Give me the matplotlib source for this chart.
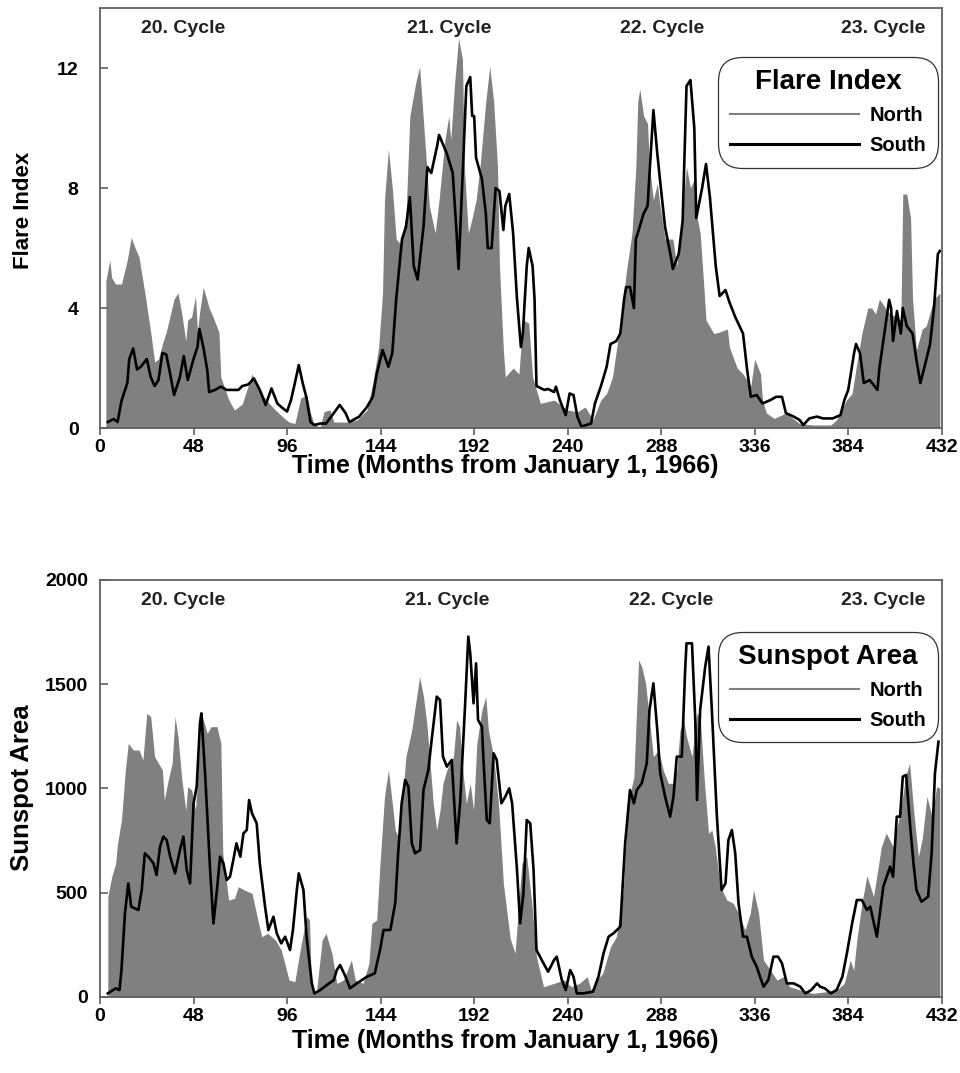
import matplotlib
matplotlib.use("Agg")
import matplotlib.pyplot as plt
from matplotlib.lines import Line2D

plt.rcParams['font.family'] = ['Liberation Sans', 'DejaVu Sans']
plt.rcParams['font.weight'] = 'bold'

# ---------------- Flare index, North (gray area) ----------------
fi_north_m = [3, 5, 6, 8, 11, 14, 16, 18, 20, 23, 26, 28, 30, 32, 34, 38, 40, 42, 44, 45, 47, 49, 50, 51, 53,
              56, 58, 61, 62, 66, 69, 73, 78, 80, 85, 90, 95, 97, 100, 103, 106, 108, 110, 113, 115, 118, 120,
              127, 132, 137, 140, 143, 145, 146, 148, 150, 152, 154, 157, 159, 162, 164, 167, 169, 172, 174,
              177, 179, 180, 182, 184, 186, 187, 189, 191, 193, 195, 198, 200, 202, 204, 205, 207, 208, 212,
              215, 217, 220, 222, 226, 233, 240, 245, 249, 253, 257, 260, 263, 265, 268, 270, 273, 275, 276,
              277, 279, 281, 282, 284, 286, 287, 290, 293, 294, 296, 298, 299, 301, 303, 305, 306, 308, 310,
              311, 315, 318, 322, 323, 327, 330, 334, 336, 339, 340, 342, 346, 352, 359, 366, 375, 378, 383,
              386, 388, 391, 394, 396, 398, 400, 404, 406, 411, 412, 414, 416, 417, 419, 422, 424, 428, 431]
fi_north_v = [4.9, 5.6, 5.0, 4.8, 4.8, 5.6, 6.35, 6.0, 5.7, 4.5, 3.2, 2.2, 2.3, 2.8, 3.2, 4.3, 4.5, 3.8, 2.9,
              3.6, 3.7, 4.4, 3.2, 3.8, 4.7, 4.0, 3.7, 3.2, 1.7, 0.95, 0.6, 0.8, 1.8, 1.5, 0.95, 0.6, 0.3, 0.2,
              0.15, 1.0, 1.1, 0.5, 0.1, 0.05, 0.55, 0.6, 0.2, 0.2, 0.27, 0.6, 1.5, 2.7, 4.5, 7.6, 9.3, 8.0,
              6.3, 6.15, 7.0, 10.4, 11.5, 12.05, 9.3, 7.4, 6.5, 7.6, 9.6, 10.4, 9.6, 11.5, 13.0, 12.3, 8.7,
              6.5, 7.0, 7.6, 8.7, 10.9, 12.05, 10.9, 8.7, 5.4, 2.6, 1.7, 2.0, 1.8, 3.6, 3.5, 1.7, 0.82, 0.93,
              0.6, 0.54, 0.7, 0.27, 0.93, 1.15, 1.7, 2.6, 3.9, 5.15, 6.5, 8.7, 10.9, 11.3, 10.4, 10.15, 8.7,
              7.6, 8.15, 7.6, 6.3, 6.3, 6.3, 5.4, 6.5, 7.4, 8.7, 8.0, 8.3, 7.15, 6.5, 4.6, 3.6, 3.15, 3.2,
              3.3, 2.7, 2.0, 1.8, 1.4, 2.3, 1.8, 0.93, 0.5, 0.32, 0.5, 0.15, 0.1, 0.1, 0.27, 0.93, 1.15, 2.0,
              3.15, 4.0, 4.0, 3.8, 4.3, 3.9, 3.8, 3.6, 7.8, 7.8, 7.0, 4.3, 2.6, 3.3, 3.4, 4.3, 4.5]

# ---------------- Flare index, South (black line) ----------------
fi_south_m = [4, 7, 9, 11, 14, 15, 17, 19, 21, 24, 26, 28, 30, 32, 34, 36, 38, 41, 43, 45, 48, 50, 51, 53, 55,
              56, 59, 62, 65, 71, 73, 76, 79, 82, 85, 88, 91, 93, 96, 98, 100, 102, 104, 106, 108, 110, 113,
              116, 120, 123, 126, 128, 133, 137, 140, 142, 145, 148, 150, 152, 155, 157, 159, 161, 163, 166,
              168, 170, 173, 174, 178, 181, 183, 184, 186, 188, 190, 191, 192, 193, 196, 198, 199, 201, 203,
              205, 207, 208, 210, 212, 213, 214, 216, 217, 219, 220, 222, 223, 224, 228, 230, 233, 234, 236,
              239, 241, 243, 245, 247, 252, 254, 257, 260, 262, 265, 267, 269, 270, 272, 274, 275, 276, 279,
              281, 284, 286, 288, 290, 293, 294, 297, 299, 301, 303, 305, 306, 309, 311, 313, 316, 318, 321,
              323, 326, 330, 332, 334, 337, 340, 344, 347, 350, 352, 356, 359, 361, 364, 368, 371, 376, 380,
              382, 384, 387, 388, 390, 392, 395, 399, 400, 402, 405, 406, 407, 409, 411, 412, 414, 417, 419,
              421, 423, 426, 428, 430, 431]
fi_south_v = [0.2, 0.3, 0.2, 0.9, 1.5, 2.3, 2.65, 1.95, 2.05, 2.3, 1.7, 1.4, 1.6, 2.5, 2.45, 1.8, 1.1, 1.7,
              2.4, 1.6, 2.3, 2.7, 3.3, 2.7, 1.95, 1.2, 1.27, 1.38, 1.27, 1.27, 1.4, 1.45, 1.65, 1.27, 0.77,
              1.32, 0.82, 0.7, 0.55, 0.93, 1.5, 2.1, 1.5, 1.0, 0.2, 0.1, 0.15, 0.15, 0.5, 0.77, 0.5, 0.2,
              0.38, 0.7, 1.04, 1.8, 2.6, 2.04, 2.5, 4.3, 6.3, 6.7, 7.7, 5.4, 4.95, 6.7, 8.7, 8.5, 9.4, 9.77,
              9.15, 8.5, 6.5, 5.3, 8.3, 11.4, 11.7, 10.4, 10.4, 9.0, 8.3, 7.15, 6.0, 6.0, 8.0, 7.9, 6.6, 7.4,
              7.8, 6.5, 5.4, 4.3, 2.7, 3.15, 5.4, 6.0, 5.4, 4.3, 1.4, 1.27, 1.3, 1.2, 1.38, 0.93, 0.43, 1.15,
              1.1, 0.38, 0.05, 0.15, 0.82, 1.38, 2.04, 2.8, 2.9, 3.15, 4.3, 4.7, 4.7, 4.0, 6.3, 6.5, 7.15,
              7.4, 10.6, 9.15, 7.9, 6.7, 5.7, 5.3, 5.8, 6.9, 11.4, 11.6, 10.0, 7.0, 8.0, 8.8, 7.7, 5.4, 4.4,
              4.6, 4.2, 3.7, 3.15, 2.0, 1.04, 1.1, 0.82, 0.93, 1.04, 1.04, 0.5, 0.38, 0.27, 0.1, 0.32, 0.38,
              0.32, 0.32, 0.43, 0.93, 1.27, 2.5, 2.8, 2.5, 1.5, 1.6, 1.27, 2.0, 2.9, 4.27, 4.0, 2.9, 3.9,
              3.15, 4.0, 3.4, 3.15, 2.27, 1.5, 2.0, 2.8, 4.0, 5.8, 5.9]

# ---------------- Sunspot area, North (gray area) ----------------
sa_north_m = [4, 6, 8, 9, 11, 13, 14.5, 17, 20, 22, 24, 26, 28, 32, 33, 35, 37, 38.5, 40, 42, 44, 45, 47, 49,
              50.5, 52, 55, 57, 60, 62, 63, 66, 69, 71, 74, 78, 81, 83, 86, 90, 93, 97, 100, 103, 106, 107.5,
              108.5, 111, 114, 116, 119, 121.5, 125, 129, 131, 135, 138, 139.5, 142, 143.7, 146, 148, 150,
              151.5, 153, 155, 157, 160, 162.5, 164, 166, 167.7, 169.4, 171, 172.8, 174.5, 176, 178, 179.7,
              181.4, 183, 184.5, 186.5, 188, 190, 191.7, 193.4, 196, 198, 199.3, 202, 204.5, 207, 210.5, 213,
              214, 216.5, 219, 221.6, 224, 227.6, 233, 238, 242, 246, 250, 252, 255, 258, 262, 265, 268.6, 271,
              274, 276.4, 278, 280, 282, 284, 286.6, 289, 291.7, 294, 296, 297.7, 299.5, 301, 303.8, 306.4,
              308, 310, 312.3, 314, 315.7, 318.4, 321.7, 325, 327.7, 331, 333.7, 335.4, 338, 340.5, 344,
              347.4, 350.8, 354, 359.4, 366, 373, 378, 382, 385, 386.8, 388.4, 391, 393.6, 397, 401, 403.5,
              407, 411, 413.5, 415.5, 417.5, 420, 422, 424.4, 427, 429.4, 431]
sa_north_v = [480, 576, 640, 736, 848, 1088, 1216, 1184, 1184, 1136, 1360, 1344, 1152, 1088, 944, 1040, 1120,
              1344, 1248, 1040, 896, 1008, 992, 896, 1120, 1360, 1264, 1296, 1296, 1216, 688, 464, 472, 528,
              512, 496, 368, 288, 304, 272, 224, 80, 72, 240, 384, 370, 40, 16, 272, 304, 208, 64, 80, 176, 80,
              64, 160, 352, 368, 640, 960, 1088, 928, 800, 768, 928, 1152, 1280, 1440, 1536, 1440, 1312, 1120,
              928, 800, 896, 1024, 1088, 1120, 1152, 1328, 1296, 1056, 928, 1024, 896, 1216, 1376, 1440, 1280,
              1152, 928, 544, 280, 208, 336, 640, 672, 448, 192, 48, 64, 80, 48, 64, 96, 32, 80, 112, 240, 288,
              512, 928, 1056, 1616, 1584, 1504, 1328, 1152, 1184, 1088, 1024, 1024, 1088, 1280, 1328, 1248,
              1152, 1360, 1344, 1056, 784, 800, 720, 528, 464, 448, 400, 320, 400, 512, 400, 176, 128, 80, 96,
              48, 32, 16, 24, 32, 64, 176, 128, 272, 448, 580, 480, 720, 785, 720, 900, 1060, 1120, 900, 672,
              760, 960, 864, 1008, 1000]

# ---------------- Sunspot area, South (black line) ----------------
sa_south_m = [4, 8, 10, 11, 12.8, 14.5, 16, 19.7, 21.4, 23, 24.8, 27.4, 29, 30.8, 32.5, 34.2, 36, 38.5, 41,
              42.8, 44.5, 46.2, 48, 49.6, 51.3, 52, 54, 56.5, 58.2, 60, 61.6, 63.3, 65, 66.7, 68.4, 70, 72,
              73.6, 75.3, 76.5, 78, 80.4, 82, 84.7, 86.4, 89, 90.7, 93, 95, 97.5, 99, 101, 102, 104.4, 106,
              108.7, 110, 113, 116.4, 120, 121.5, 123.2, 126, 128.3, 131.8, 137, 141, 143.7, 145.5, 149,
              151.5, 153, 154.8, 156.6, 158.3, 160, 161.7, 164.3, 166, 168.5, 170, 172.8, 174.5, 176, 178,
              180.5, 183, 184.8, 187.4, 189, 190, 191.7, 193, 194, 196, 196.8, 198.5, 200, 202, 203.6, 206,
              208, 210, 211.5, 214, 215.6, 217.3, 219, 220.8, 222.5, 224, 227.6, 230, 233, 234.4, 237, 239,
              241.3, 243, 244.7, 248, 253, 255.8, 258.4, 261, 263.5, 267, 269.5, 272, 274, 275.5, 278, 280.6,
              282, 284, 286, 287.5, 290, 292.6, 294.3, 296, 298.6, 300.3, 301, 303.8, 305.5, 306.4, 308,
              310.6, 312.3, 314, 316.6, 319, 321, 322.5, 324.3, 326, 327.7, 330, 332, 334.5, 337, 340.5, 343,
              345.6, 348, 350, 352.5, 356, 359.4, 362, 365, 368, 369.6, 372, 375, 378, 381, 383.3, 386,
              388.4, 391, 393.6, 395.3, 398.7, 402, 405.5, 407, 408.9, 410.6, 412, 413.7, 415.8,
              417.5, 419, 421.6, 425, 426.8, 428.5, 430.3]
sa_south_v = [16, 40, 32, 128, 400, 544, 432, 416, 512, 688, 672, 640, 584, 720, 768, 752, 672, 592, 704, 768,
              608, 544, 928, 1008, 1312, 1360, 1056, 608, 352, 512, 672, 640, 560, 576, 656, 736, 672, 784,
              800, 944, 880, 832, 640, 432, 320, 384, 304, 256, 288, 224, 320, 512, 592, 512, 288, 64, 16,
              32, 56, 80, 128, 152, 96, 40, 64, 96, 112, 224, 320, 320, 448, 688, 928, 1040, 1008, 736, 688,
              704, 992, 1088, 1216, 1440, 1424, 1152, 1104, 1136, 736, 928, 1408, 1728, 1648, 1408, 1600,
              1328, 1296, 1136, 848, 832, 1168, 1136, 928, 960, 1000, 928, 608, 352, 496, 848, 832, 608, 224,
              160, 120, 176, 192, 80, 32, 128, 96, 16, 16, 24, 96, 208, 288, 304, 336, 736, 992, 928, 992,
              1024, 1120, 1376, 1504, 1280, 1072, 960, 864, 960, 1152, 1152, 1568, 1696, 1696, 1328, 944,
              1376, 1584, 1680, 1376, 864, 512, 544, 752, 800, 688, 448, 288, 288, 192, 144, 48, 80, 192, 192,
              160, 64, 64, 48, 16, 32, 64, 48, 40, 16, 32, 96, 208, 352, 464, 464, 416, 432, 288, 528, 624,
              576, 864, 864, 1056, 1064, 816, 640, 512, 456, 480, 688, 1072, 1224]

x_ticks = [0, 48, 96, 144, 192, 240, 288, 336, 384, 432]
fi_ticks = [0, 4, 8, 12]
sa_ticks = [0, 500, 1000, 1500, 2000]
cycle_labels = ["20. Cycle", "21. Cycle", "22. Cycle", "23. Cycle"]
x_label = "Time (Months from January 1, 1966)"

GRAY = '#808080'
SPINE = '#606060'

fig = plt.figure(figsize=(9.6, 10.73), dpi=100)
ax1 = fig.add_axes([0.1042, 0.6011, 0.8768, 0.3914])
ax2 = fig.add_axes([0.1042, 0.0711, 0.8768, 0.3884])


def style(ax, yticks, ylim, ylabel, ylabel_size, ylabel_y, ypad, xlabel_y, legend_title,
          cyc_x, cyc_y, leg_anchor):
    ax.set_xlim(0, 432)
    ax.set_ylim(*ylim)
    ax.set_xticks(x_ticks)
    ax.set_yticks(yticks)
    ax.tick_params(axis='x', direction='out', length=5, width=1.2, color=SPINE,
                   labelsize=14, pad=3)
    ax.tick_params(axis='y', direction='in', length=6, width=1.2, color=SPINE,
                   labelsize=14, pad=ypad)
    for lab in ax.get_xticklabels() + ax.get_yticklabels():
        lab.set_fontweight('bold')
    for s in ax.spines.values():
        s.set_color(SPINE)
        s.set_linewidth(1.3)
    ax.set_xlabel(x_label, fontsize=18, fontweight='bold')
    ax.xaxis.set_label_coords(0.481, xlabel_y)
    ax.set_ylabel(ylabel, fontsize=ylabel_size, fontweight='bold')
    ax.yaxis.set_label_coords(-0.078, ylabel_y)
    for lbl, cx in zip(cycle_labels, cyc_x):
        ax.text(cx, cyc_y, lbl, transform=ax.transAxes, ha='center', va='center',
                fontsize=14, fontweight='bold', color='#222222')
    handles = [Line2D([], [], color=GRAY, lw=1.5), Line2D([], [], color='black', lw=2.2)]
    leg = ax.legend(handles, ['North', 'South'], title=legend_title, loc='upper right',
                    bbox_to_anchor=leg_anchor, borderaxespad=0,
                    prop={'weight': 'bold', 'size': 14.5},
                    title_fontproperties={'weight': 'bold', 'size': 20},
                    handlelength=6.4, handletextpad=0.5, labelspacing=0.55,
                    borderpad=0.6, fancybox=True, framealpha=1, edgecolor='#333333')
    leg.get_frame().set_linewidth(0.9)
    leg.get_frame().set_boxstyle('round,pad=0,rounding_size=1.2')


ax1.fill_between(fi_north_m, fi_north_v, 0, color=GRAY, linewidth=0)
ax1.plot(fi_south_m, fi_south_v, color='black', lw=1.9)
style(ax1, fi_ticks, (0, 14), 'Flare Index', 16, 0.519, 15.5, -0.062, 'Flare Index',
      [0.0986, 0.4147, 0.668, 0.930], 0.952, (0.9956, 0.883))

ax2.fill_between(sa_north_m, sa_north_v, 0, color=GRAY, linewidth=0)
ax2.plot(sa_south_m, sa_south_v, color='black', lw=1.9)
style(ax2, sa_ticks, (0, 2000), 'Sunspot Area', 18.5, 0.501, 8.5, -0.077, 'Sunspot Area',
      [0.0986, 0.413, 0.678, 0.931], 0.9496, (0.9956, 0.875))

fig.savefig('out.png', dpi=100)
